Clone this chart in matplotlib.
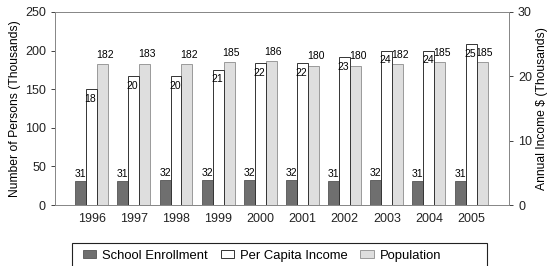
"""Enrollment, income and population by year (twin-axis grouped bars)."""

import matplotlib

matplotlib.use("Agg")

import matplotlib.pyplot as plt
import numpy as np
from matplotlib.patches import Rectangle

plt.rcParams["font.family"] = ["Liberation Sans", "DejaVu Sans"]

years = ["1996", "1997", "1998", "1999", "2000", "2001", "2002", "2003", "2004", "2005"]
enrollment = [31, 31, 32, 32, 32, 32, 31, 32, 31, 31]
income = [18, 20, 20, 21, 22, 22, 23, 24, 24, 25]
population = [182, 183, 182, 185, 186, 180, 180, 182, 185, 185]

x = np.arange(len(years))
w = 0.26

fig = plt.figure(figsize=(5.5, 2.66), dpi=100)
ax = fig.add_axes([55 / 550, 1 - 205 / 266, 454 / 550, 193 / 266])
ax2 = ax.twinx()

dark = "#6f6f6f"
light = "#dedede"

b1 = ax.bar(x - w, enrollment, w, color=dark, edgecolor="#555555", linewidth=0.6,
            label="School Enrollment")
b3 = ax.bar(x + w, population, w, color=light, edgecolor="#9a9a9a", linewidth=0.7,
            label="Population")
b2 = ax2.bar(x, income, w, color="white", edgecolor="#333333", linewidth=0.7,
             label="Per Capita Income")

for xi, v in zip(x, enrollment):
    ax.text(xi - w, v + 3, str(v), ha="center", va="bottom", fontsize=7.5)
for xi, v in zip(x, population):
    ax.text(xi + w * 1.2, v + 6, str(v), ha="center", va="bottom", fontsize=7.5)
for xi, v in zip(x, income):
    ax2.text(xi - w * 0.1, v - 0.7, str(v), ha="center", va="top", fontsize=7.5)

ax.set_xlim(-0.87, 9.9)
ax.set_ylim(0, 250)
ax2.set_ylim(0, 30)
ax.set_yticks(range(0, 251, 50))
ax2.set_yticks([0, 10, 20, 30])
ax.set_xticks(x)
ax.set_xticklabels(years)

ax.set_ylabel("Number of Persons (Thousands)", fontsize=8.7, labelpad=3)
ax2.set_ylabel("Annual Income $ (Thousands)", fontsize=8.7, labelpad=3)

for a in (ax, ax2):
    a.tick_params(labelsize=9, length=3, width=0.6, colors="#222222")
    for s in a.spines.values():
        s.set_color("#888888")
        s.set_linewidth(0.7)
ax.tick_params(axis="x", length=0, pad=6)

# legend box runs off the bottom edge in the original scan
fig.patches.append(Rectangle((72 / 550, -0.05), 415 / 550, 0.05 + 23 / 266,
                             transform=fig.transFigure, fill=False,
                             edgecolor="#222222", linewidth=0.8))
fig.legend(handles=[b1, b2, b3], loc="center left", ncol=3,
           bbox_to_anchor=(74 / 550, 1 - 256 / 266), fontsize=9.4,
           frameon=False, handlelength=1.0, handleheight=0.55,
           columnspacing=1.0, handletextpad=0.45, borderpad=0.2)

fig.savefig("out.png", dpi=100)
plt.close(fig)
